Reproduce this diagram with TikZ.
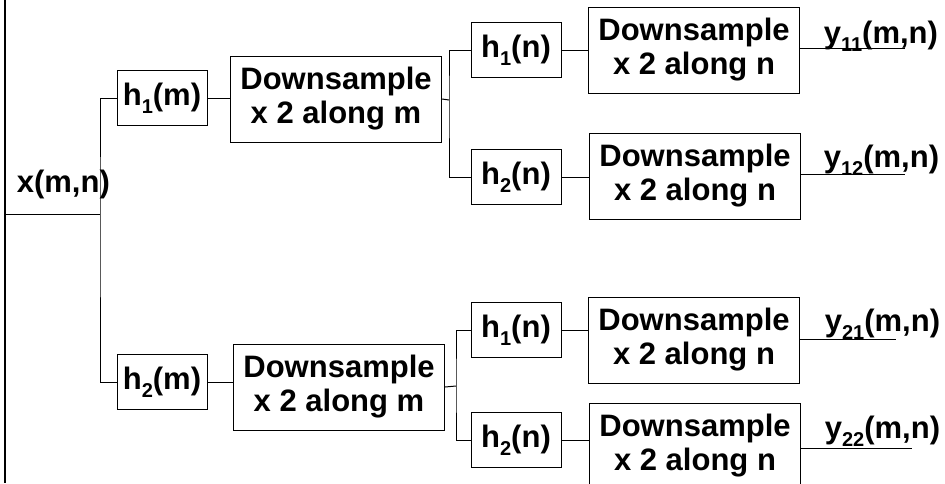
\documentclass[tikz,border=0pt]{standalone}
\usepackage{fontspec}
\setmainfont{Liberation Sans}
\usetikzlibrary{calc}

\newcommand{\idx}[1]{\raisebox{-8pt}{\fontsize{20}{20}\selectfont #1}}

\begin{document}
\begin{tikzpicture}[x = 1pt, y = -1pt, line width = 1pt,
        every node/.style = {font = \fontsize{31}{34}\selectfont\bfseries},
        filt/.style = {draw, minimum width = 90pt, minimum height = 55pt, inner sep = 0pt},
        down/.style = {draw, align = center, minimum width = 211pt, minimum height = 86pt, inner sep = 0pt}]
        \useasboundingbox (0,0) rectangle (945,483);

        \draw [line width = 2.5pt] (5,0) -- (5,483);

        % first stage: filter and decimate along m
        \node [anchor = base west] (x) at (13,192) {x(m,n)};
        \coordinate (in) at (5,214);
        \coordinate (s0) at (100,214);
        \node [filt] (hm1) at (162,98) {h\idx{1}(m)};
        \node [filt] (hm2) at (162,382) {h\idx{2}(m)};
        \node [down] (dm1) at (336,99) {Downsample\\x 2 along m};
        \node [down] (dm2) at (339,387) {Downsample\\x 2 along m};

        \draw (in) -- (s0);
        \draw (hm1.west) -| (s0) |- (hm2.west);
        \foreach \n in {1, 2}
                 {
                   \draw (hm\n.east) -- (hm\n.east -| dm\n.west);
                 }

        % second stage: filter and decimate along n
        \node [filt] (hn11) at (516,50) {h\idx{1}(n)};
        \node [filt] (hn12) at (516,177) {h\idx{2}(n)};
        \node [filt] (hn21) at (516,330) {h\idx{1}(n)};
        \node [filt] (hn22) at (516,440) {h\idx{2}(n)};
        \node [down] (dn11) at (694,50) {Downsample\\x 2 along n};
        \node [down] (dn12) at (695,176) {Downsample\\x 2 along n};
        \node [down] (dn21) at (694,340) {Downsample\\x 2 along n};
        \node [down] (dn22) at (695,446) {Downsample\\x 2 along n};

        \coordinate (s1) at (449,100);
        \coordinate (s2) at (456,386);
        \draw (dm1.east) -- (s1);
        \draw (dm2.east) -- (s2);
        \draw (hn11.west) -| (s1) |- (hn12.west);
        \draw (hn21.west) -| (s2) |- (hn22.west);
        \foreach \n in {11, 12, 21, 22}
                 {
                   \draw (hn\n.east) -- (hn\n.east -| dn\n.west);
                 }

        % outputs
        \coordinate (o11) at (905,48);
        \coordinate (o12) at (905,174);
        \coordinate (o21) at (896,339);
        \coordinate (o22) at (912,448);
        \node [anchor = base west] (y11) at (820,43) {y\idx{11}(m,n)};
        \node [anchor = base west] (y12) at (820,167) {y\idx{12}(m,n)};
        \node [anchor = base west] (y21) at (821,331) {y\idx{21}(m,n)};
        \node [anchor = base west] (y22) at (821,438) {y\idx{22}(m,n)};
        \foreach \n in {11, 12, 21, 22}
                 {
                   \draw (dn\n.east |- o\n) -- (o\n);
                 }
\end{tikzpicture}
\end{document}
